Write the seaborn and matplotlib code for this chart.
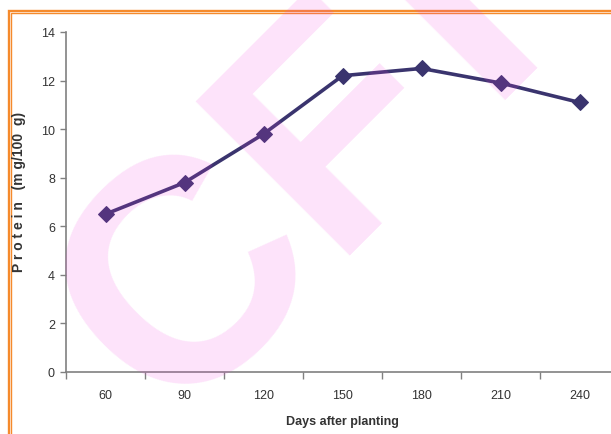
import matplotlib
matplotlib.use("Agg")
import matplotlib.pyplot as plt
import seaborn as sns
import pandas as pd
from matplotlib.patches import Rectangle
from matplotlib.ticker import FixedLocator

days = ["60", "90", "120", "150", "180", "210", "240"]
protein = [6.5, 7.8, 9.8, 12.2, 12.5, 11.9, 11.1]
y_ticks = [0, 2, 4, 6, 8, 10, 12, 14]

sns.set_theme(style="white")
plt.rcParams["font.family"] = ["Liberation Sans", "DejaVu Sans"]

W, H = 611, 435
fig = plt.figure(figsize=(W / 100, H / 100), dpi=100)
fig.patch.set_facecolor("white")

# double orange frame running off the right and bottom edges
for off, lw in ((8.5, 1.7), (11.0, 1.0)):
    fig.add_artist(Rectangle((off / W, -0.05), 1.2, 1 - (off + 3) / H + 0.05,
                             transform=fig.transFigure, fill=False,
                             edgecolor="#f58a2c", linewidth=lw, zorder=0))

ax = fig.add_axes([66 / W, 62 / H, (619 - 66) / W, (402 - 62) / H])
ax.set_facecolor("none")

df = pd.DataFrame({"day": days, "protein": protein})
sns.lineplot(data=df, x="day", y="protein", sort=False, ax=ax,
             color="#3a346e", linewidth=2.6, marker="D", markersize=8,
             markeredgecolor="#3a346e")

ax.set_xlim(-0.5, 6.5)
ax.set_ylim(0, 14)
ax.set_yticks(y_ticks)
ax.set_xticks(range(len(days)))
ax.set_xticklabels(days)
ax.xaxis.set_minor_locator(FixedLocator([i - 0.5 for i in range(len(days) + 1)]))
ax.tick_params(axis="x", which="major", length=0, pad=12, labelsize=9, labelcolor="#333333")
ax.tick_params(axis="x", which="minor", bottom=True, length=5, width=1, color="#808080", direction="out")
ax.tick_params(axis="y", left=True, length=4, width=1, color="#808080", direction="out",
               pad=4, labelsize=9, labelcolor="#333333")

for s in ("top", "right"):
    ax.spines[s].set_visible(False)
for s in ("left", "bottom"):
    ax.spines[s].set_color("#808080")
    ax.spines[s].set_linewidth(1.2)

ax.set_xlabel("Days after planting", fontsize=9, fontweight="bold", color="#333333", labelpad=10)
ax.set_ylabel("P r o t e i n   (m g/100  g)", fontsize=10, fontweight="bold", color="#333333")
ax.yaxis.set_label_coords(-40 / (619 - 66), (373 - 192) / (373 - 33))

# translucent publisher watermark laid over the figure
fig.text(306 / W, 1 - 184 / H, "CF\u200aI", rotation=45, ha="center", va="center",
         fontsize=228, fontweight="bold", color="#f23ede", alpha=0.15, zorder=10)

fig.savefig("out.png", dpi=100, facecolor="white")
